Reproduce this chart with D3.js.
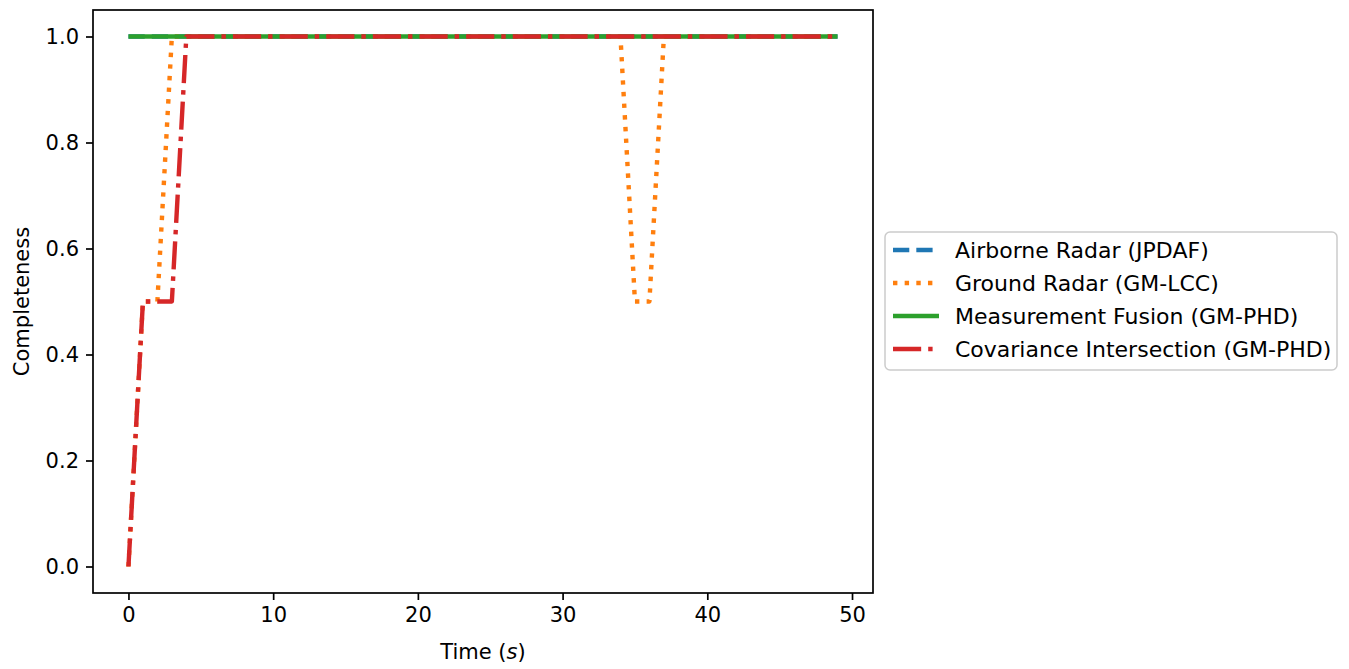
<!DOCTYPE html>
<html>
<head>
<meta charset="utf-8">
<script src="https://cdn.jsdelivr.net/npm/d3@7"></script>
<style>
  html, body { margin: 0; padding: 0; background: #fff; }
  svg { display: block; font-family: "DejaVu Sans", sans-serif; }
</style>
</head>
<body>
<svg id="chart" width="1349" height="669"></svg>
<script>
// Track completeness per time step (t = 0 .. 49 s)
const time = d3.range(0, 50);

const airborneRadar = time.map(() => 1.0);

const groundRadar = [
  0.0, 0.5, 0.5, 1.0, 1.0, 1.0, 1.0, 1.0, 1.0, 1.0,
  1.0, 1.0, 1.0, 1.0, 1.0, 1.0, 1.0, 1.0, 1.0, 1.0,
  1.0, 1.0, 1.0, 1.0, 1.0, 1.0, 1.0, 1.0, 1.0, 1.0,
  1.0, 1.0, 1.0, 1.0, 1.0, 0.5, 0.5, 1.0, 1.0, 1.0,
  1.0, 1.0, 1.0, 1.0, 1.0, 1.0, 1.0, 1.0, 1.0, 1.0
];

const measurementFusion = time.map(() => 1.0);

const covarianceIntersection = [
  0.0, 0.5, 0.5, 0.5, 1.0, 1.0, 1.0, 1.0, 1.0, 1.0,
  1.0, 1.0, 1.0, 1.0, 1.0, 1.0, 1.0, 1.0, 1.0, 1.0,
  1.0, 1.0, 1.0, 1.0, 1.0, 1.0, 1.0, 1.0, 1.0, 1.0,
  1.0, 1.0, 1.0, 1.0, 1.0, 1.0, 1.0, 1.0, 1.0, 1.0,
  1.0, 1.0, 1.0, 1.0, 1.0, 1.0, 1.0, 1.0, 1.0, 1.0
];

const seriesNames = [
  "Airborne Radar (JPDAF)",
  "Ground Radar (GM-LCC)",
  "Measurement Fusion (GM-PHD)",
  "Covariance Intersection (GM-PHD)"
];

const xTicks = [0, 10, 20, 30, 40, 50];
const yTicks = [0.0, 0.2, 0.4, 0.6, 0.8, 1.0];

const lw = 4.4;
const fontSize = 21;
const legendFontSize = 22;

const styles = [
  { color: "#1f77b4", dash: [3.7 * lw, 1.6 * lw].join(",") },
  { color: "#ff7f0e", dash: [1 * lw, 1.65 * lw].join(",") },
  { color: "#2ca02c", dash: null },
  { color: "#d62728", dash: [6.4 * lw, 1.6 * lw, 1 * lw, 1.6 * lw].join(",") }
];

const seriesValues = [airborneRadar, groundRadar, measurementFusion, covarianceIntersection];

const svg = d3.select("#chart");

const plot = { left: 93, right: 873, top: 10, bottom: 593 };

const x = d3.scaleLinear().domain([-2.45, 51.45]).range([plot.left, plot.right]);
const y = d3.scaleLinear().domain([-0.05, 1.05]).range([plot.bottom, plot.top]);

svg.append("defs").append("clipPath").attr("id", "plot-clip")
  .append("rect")
  .attr("x", plot.left).attr("y", plot.top)
  .attr("width", plot.right - plot.left).attr("height", plot.bottom - plot.top);

// Series lines
const line = d3.line().x((d, i) => x(time[i])).y(d => y(d));

const lines = svg.append("g").attr("clip-path", "url(#plot-clip)");
seriesValues.forEach((vals, k) => {
  lines.append("path")
    .datum(vals)
    .attr("d", line)
    .attr("fill", "none")
    .attr("stroke", styles[k].color)
    .attr("stroke-width", lw)
    .attr("stroke-linejoin", "round")
    .attr("stroke-linecap", "butt")
    .attr("stroke-dasharray", styles[k].dash);
});

// Axes
const xAxis = d3.axisBottom(x).tickValues(xTicks).tickFormat(d3.format("d"))
  .tickSize(7).tickPadding(7);
const yAxis = d3.axisLeft(y).tickValues(yTicks).tickFormat(d3.format(".1f"))
  .tickSize(7).tickPadding(7);

const gx = svg.append("g").attr("transform", `translate(0,${plot.bottom})`).call(xAxis);
const gy = svg.append("g").attr("transform", `translate(${plot.left},0)`).call(yAxis);

[gx, gy].forEach(g => {
  g.select(".domain").remove();
  g.selectAll(".tick line").attr("stroke", "#000").attr("stroke-width", 1.7);
  g.selectAll(".tick text")
    .attr("fill", "#000")
    .style("font-family", "'DejaVu Sans', sans-serif")
    .style("font-size", fontSize + "px");
});

// Frame
svg.append("rect")
  .attr("x", plot.left).attr("y", plot.top)
  .attr("width", plot.right - plot.left).attr("height", plot.bottom - plot.top)
  .attr("fill", "none").attr("stroke", "#000").attr("stroke-width", 1.7);

// Axis labels
const xLabel = svg.append("text")
  .attr("x", (plot.left + plot.right) / 2)
  .attr("y", 659)
  .attr("text-anchor", "middle")
  .style("font-size", fontSize + "px")
  .attr("fill", "#000");
xLabel.append("tspan").text("Time (");
xLabel.append("tspan").style("font-style", "italic").text("s");
xLabel.append("tspan").text(")");

svg.append("text")
  .attr("transform", `translate(29,${(plot.top + plot.bottom) / 2}) rotate(-90)`)
  .attr("text-anchor", "middle")
  .style("font-size", fontSize + "px")
  .attr("fill", "#000")
  .text("Completeness");

// Legend
const legend = svg.append("g");
legend.append("rect")
  .attr("x", 885).attr("y", 232)
  .attr("width", 452).attr("height", 138)
  .attr("rx", 5).attr("ry", 5)
  .attr("fill", "#fff").attr("fill-opacity", 0.8)
  .attr("stroke", "#cccccc").attr("stroke-width", 1.5);

const rowY = d3.scalePoint().domain(seriesNames).range([250, 349]);

seriesNames.forEach((name, k) => {
  const yy = rowY(name);
  legend.append("line")
    .attr("x1", 893).attr("x2", 939)
    .attr("y1", yy).attr("y2", yy)
    .attr("stroke", styles[k].color)
    .attr("stroke-width", lw)
    .attr("stroke-dasharray", styles[k].dash);
  legend.append("text")
    .attr("x", 955).attr("y", yy)
    .attr("dy", "0.36em")
    .style("font-size", legendFontSize + "px")
    .attr("fill", "#000")
    .text(name);
});
</script>
</body>
</html>
